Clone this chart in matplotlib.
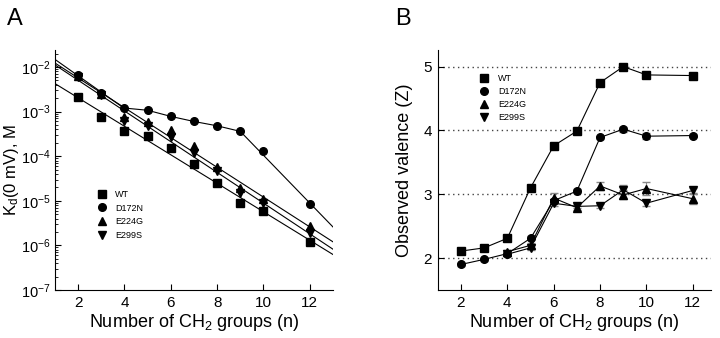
import numpy as np
import matplotlib
matplotlib.use("Agg")
import matplotlib.pyplot as plt
from matplotlib.lines import Line2D

plt.rcParams['font.family'] = ['Liberation Sans', 'DejaVu Sans']
plt.rcParams['mathtext.default'] = 'regular'

# number of CH2 groups
n_all = [2, 3, 4, 5, 6, 7, 8, 9, 10, 12]
n_mut = [4, 5, 6, 7, 8, 9, 10, 12]

# Kd(0 mV) in M
kd_wt    = [2.09e-3, 7.6e-4, 3.6e-4, 2.8e-4, 1.5e-4, 6.6e-5, 2.5e-5, 8.9e-6, 5.9e-6, 1.2e-6]
kd_d172n = [6.5e-3, 2.6e-3, 1.2e-3, 1.07e-3, 7.8e-4, 6.0e-4, 4.8e-4, 3.6e-4, 1.3e-4, 8.3e-6]
kd_e224g = [6.2e-3, 2.5e-3, 7.6e-4, 5.9e-4, 3.9e-4, 1.7e-4, 5.8e-5, 1.9e-5, 1.1e-5, 2.7e-6]
kd_e299s = [6.0e-3, 2.4e-3, 6.0e-4, 4.7e-4, 2.7e-4, 1.2e-4, 4.7e-5, 1.5e-5, 8.7e-6, 1.9e-6]

# observed valence
z_wt    = [2.11, 2.16, 2.31, 3.10, 3.76, 3.99, 4.75, 5.00, 4.87, 4.86]
z_d172n = [1.90, 1.98, 2.07, 2.31, 2.90, 3.05, 3.89, 4.02, 3.91, 3.92]
z_e224g = [2.10, 2.20, 2.94, 2.79, 3.13, 2.99, 3.09, 2.93]
z_e299s = [2.06, 2.16, 2.86, 2.81, 2.82, 3.07, 2.86, 3.06]

zerr_wt    = [0.02, 0.02, 0.02, 0.03, 0.03, 0.03, 0.03, 0.03, 0.03, 0.04]
zerr_d172n = [0.02, 0.02, 0.02, 0.03, 0.03, 0.03, 0.03, 0.04, 0.05, 0.03]
zerr_e224g = [0.03, 0.04, 0.08, 0.03, 0.06, 0.07, 0.10, 0.08]
zerr_e299s = [0.03, 0.04, 0.05, 0.03, 0.03, 0.07, 0.04, 0.04]

labels = ['WT', 'D172N', 'E224G', 'E299S']
markers = ['s', 'o', '^', 'v']

fig = plt.figure(figsize=(7.2, 3.38), dpi=100)
axA = fig.add_axes([0.0764, 0.142, 0.386, 0.710])
axB = fig.add_axes([0.608, 0.142, 0.380, 0.710])

n = np.array(n_all)

# ---- panel A ----
kds = [kd_wt, kd_d172n, kd_e224g, kd_e299s]
xx = np.linspace(1, 13, 50)
for kd, lab, m in zip(kds, labels, markers):
    lk = np.log10(kd)
    z = 4 if lab == 'D172N' else 3
    axA.plot(n, kd, ls='none', marker=m, ms=5.5, color='black', zorder=z)
    if lab != 'D172N':
        p = np.polyfit(n, lk, 1)
        axA.plot(xx, 10**np.polyval(p, xx), color='black', lw=0.8)
    else:
        # straight at short chains, bends over, steep again at long chains
        p1 = np.polyfit(n[:3], lk[:3], 1)
        x1 = np.linspace(1, 4, 10)
        axA.plot(x1, 10**np.polyval(p1, x1), color='black', lw=0.8)
        axA.plot(n[2:8], kd[2:8], color='black', lw=0.8)
        p2 = np.polyfit(n[7:], lk[7:], 1, w=[10, 1, 1])
        x2 = np.linspace(9, 13, 10)
        axA.plot(x2, 10**np.polyval(p2, x2), color='black', lw=0.8)

axA.set_yscale('log')
axA.set_xlim(1, 13)
axA.set_ylim(1e-7, 2.4e-2)
axA.set_xticks([2, 4, 6, 8, 10, 12])
axA.set_ylabel('K$_d$(0 mV), M', fontsize=12)
axA.yaxis.set_label_coords(-0.124, 0.5)
axA.set_xlabel('Number of CH$_2$ groups (n)', fontsize=13, labelpad=2)

handles = [Line2D([], [], ls='none', marker=m, ms=5.5, color='black') for m in markers]
axA.legend(handles, labels, loc='upper left', bbox_to_anchor=(0.135, 0.435), frameon=False,
           fontsize=6.5, handletextpad=1.0, labelspacing=0.5, borderpad=0, handlelength=1.0)

# ---- panel B ----
zs = [z_wt, z_d172n, z_e224g, z_e299s]
zerrs = [zerr_wt, zerr_d172n, zerr_e224g, zerr_e299s]
xs = [n_all, n_all, n_mut, n_mut]
for yv in [2, 3, 4, 5]:
    axB.axhline(yv, color='#444444', ls=(0, (1, 2.5)), lw=1, zorder=0)
for x, z, ze, lab, m in zip(xs, zs, zerrs, labels, markers):
    zo = 4 if lab == 'D172N' else 3
    axB.errorbar(x, z, yerr=ze, fmt='none', ecolor='#888888', elinewidth=0.8, capsize=3, zorder=2)
    axB.plot(x, z, color='black', lw=0.8, marker=m, ms=5.5, zorder=zo)

axB.set_xlim(1, 12.8)
axB.set_ylim(1.5, 5.26)
axB.set_xticks([2, 4, 6, 8, 10, 12])
axB.set_yticks([2, 3, 4, 5])
axB.set_ylabel('Observed valence (Z)', fontsize=13)
axB.yaxis.set_label_coords(-0.092, 0.5)
axB.set_xlabel('Number of CH$_2$ groups (n)', fontsize=13, labelpad=2)
axB.legend(handles, labels, loc='upper left', bbox_to_anchor=(0.135, 0.92), frameon=False,
           fontsize=6.5, handletextpad=1.1, labelspacing=0.45, borderpad=0, handlelength=1.0)

for ax in (axA, axB):
    ax.spines['top'].set_visible(False)
    ax.spines['right'].set_visible(False)
    ax.tick_params(axis='both', which='major', direction='in', length=4, labelsize=11, pad=4)
    ax.tick_params(axis='both', which='minor', direction='in', length=2)
axA.tick_params(axis='y', which='major', labelsize=10.5, pad=3)

fig.text(0.010, 0.975, 'A', fontsize=17, va='top')
fig.text(0.549, 0.975, 'B', fontsize=17, va='top')

fig.savefig('out.png', dpi=100)
